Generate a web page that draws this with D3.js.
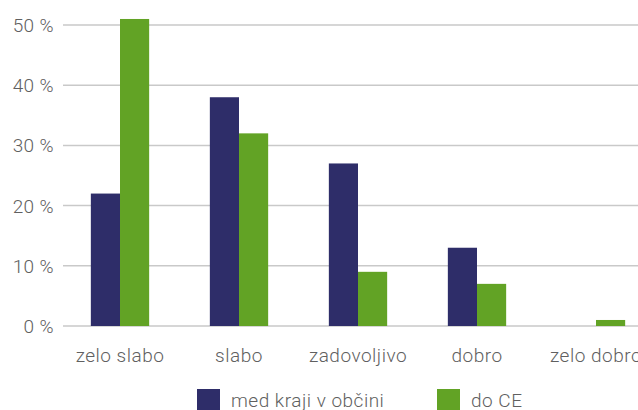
<!DOCTYPE html>
<html>
<head>
<meta charset="utf-8">
<script src="https://d3js.org/d3.v7.min.js"></script>
<style>
body { margin: 0; background: #fff; }
svg { font-family: Roboto, "Open Sans", sans-serif; font-weight: 300; }
</style>
</head>
<body>
<div id="chart"></div>
<script>
var categories = ["zelo slabo", "slabo", "zadovoljivo", "dobro", "zelo dobro"];
var seriesNames = ["med kraji v občini", "do CE"];
var medKraji = [22, 38, 27, 13, 0];
var doCE = [51, 32, 9, 7, 1];
var yTicks = [0, 10, 20, 30, 40, 50];
var colours = ["#2e2d69", "#62a325"];

var width = 638, height = 410;
var left = 60.5, bandStep = 119;

var svg = d3.select("#chart").append("svg")
  .attr("width", width)
  .attr("height", height);

var x = d3.scaleBand()
  .domain(categories)
  .range([left, left + bandStep * categories.length])
  .paddingInner(0.51)
  .paddingOuter(0.255);

var x1 = d3.scaleBand()
  .domain([0, 1])
  .range([0, x.bandwidth()]);

var y = d3.scaleLinear()
  .domain([0, 50])
  .range([326, 25]);

// gridlines
svg.append("g")
  .selectAll("line")
  .data(yTicks)
  .enter().append("line")
    .attr("x1", 63)
    .attr("x2", width)
    .attr("y1", d => y(d))
    .attr("y2", d => y(d))
    .attr("stroke", "#c9c9c9")
    .attr("stroke-width", 1.5);

// y labels
svg.append("g")
  .selectAll("text")
  .data(yTicks)
  .enter().append("text")
    .attr("x", 54)
    .attr("y", d => y(d) + 7)
    .attr("text-anchor", "end")
    .attr("fill", "#606060")
    .style("font-size", "19px")
    .style("letter-spacing", "0.4px")
    .text(d => d + " %");

var series = [medKraji, doCE];
series.forEach(function(vals, s) {
  svg.append("g")
    .selectAll("rect")
    .data(vals)
    .enter().append("rect")
      .attr("x", (d, i) => x(categories[i]) + x1(s))
      .attr("y", d => y(d))
      .attr("width", x1.bandwidth())
      .attr("height", d => y(0) - y(d))
      .attr("fill", colours[s]);
});

// x labels
svg.append("g")
  .selectAll("text")
  .data(categories)
  .enter().append("text")
    .attr("x", d => x(d) + x.bandwidth() / 2)
    .attr("y", 362)
    .attr("text-anchor", "middle")
    .attr("fill", "#606060")
    .style("font-size", "19px")
    .style("letter-spacing", "0.5px")
    .text(d => d);

// legend
var legendX = [197, 437];
var legend = svg.append("g")
  .selectAll("g")
  .data(seriesNames)
  .enter().append("g")
    .attr("transform", (d, i) => "translate(" + legendX[i] + ",389)");
legend.append("rect")
  .attr("width", 23)
  .attr("height", 21)
  .attr("fill", (d, i) => colours[i]);
legend.append("text")
  .attr("x", 34)
  .attr("y", 18)
  .attr("fill", "#606060")
  .style("font-size", "19px")
  .style("letter-spacing", "0.5px")
  .text(d => d);
</script>
</body>
</html>
